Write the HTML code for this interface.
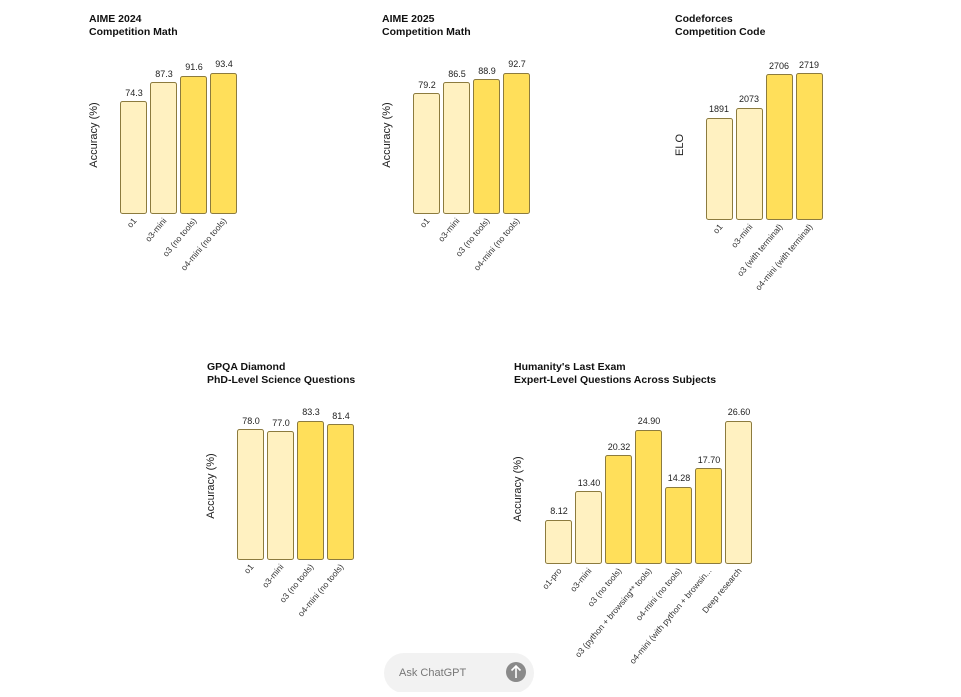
<!DOCTYPE html>
<html><head><meta charset="utf-8"><style>
body{margin:0;background:#fff;}
svg text{font-family:"Liberation Sans",sans-serif;}
.t{font-size:10.5px;font-weight:bold;fill:#111}
.v{font-size:9px;fill:#222;text-anchor:middle}
.x{font-size:8.5px;fill:#333;text-anchor:end}
.y{font-size:11px;fill:#222;text-anchor:middle}
.l{fill:#FFF1C1;stroke:#8C7B3E;stroke-width:1}
.d{fill:#FFDF5A;stroke:#8C7B3E;stroke-width:1}
</style></head><body>
<svg width="961" height="692" xmlns="http://www.w3.org/2000/svg">
<!-- Chart 1 -->
<text class="t" x="89" y="22">AIME 2024</text><text class="t" x="89" y="35">Competition Math</text>
<text class="y" transform="translate(97,135) rotate(-90)">Accuracy (%)</text>
<rect class="l" x="120.5" y="101.5" width="26" height="112" rx="2"/><text class="v" x="134" y="96">74.3</text>
<rect class="l" x="150.5" y="82.5" width="26" height="131" rx="2"/><text class="v" x="164" y="77">87.3</text>
<rect class="d" x="180.5" y="76.5" width="26" height="137" rx="2"/><text class="v" x="194" y="70">91.6</text>
<rect class="d" x="210.5" y="73.5" width="26" height="140" rx="2"/><text class="v" x="224" y="67">93.4</text>
<text class="x" transform="translate(137,221) rotate(-50)">o1</text>
<text class="x" transform="translate(167,221) rotate(-50)">o3-mini</text>
<text class="x" transform="translate(197,221) rotate(-50)">o3 (no tools)</text>
<text class="x" transform="translate(227,221) rotate(-50)">o4-mini (no tools)</text>
<!-- Chart 2 -->
<text class="t" x="382" y="22">AIME 2025</text><text class="t" x="382" y="35">Competition Math</text>
<text class="y" transform="translate(390,135) rotate(-90)">Accuracy (%)</text>
<rect class="l" x="413.5" y="93.5" width="26" height="120" rx="2"/><text class="v" x="427" y="88">79.2</text>
<rect class="l" x="443.5" y="82.5" width="26" height="131" rx="2"/><text class="v" x="457" y="77">86.5</text>
<rect class="d" x="473.5" y="79.5" width="26" height="134" rx="2"/><text class="v" x="487" y="74">88.9</text>
<rect class="d" x="503.5" y="73.5" width="26" height="140" rx="2"/><text class="v" x="517" y="67">92.7</text>
<text class="x" transform="translate(430,221) rotate(-50)">o1</text>
<text class="x" transform="translate(460,221) rotate(-50)">o3-mini</text>
<text class="x" transform="translate(490,221) rotate(-50)">o3 (no tools)</text>
<text class="x" transform="translate(520,221) rotate(-50)">o4-mini (no tools)</text>
<!-- Chart 3 -->
<text class="t" x="675" y="22">Codeforces</text><text class="t" x="675" y="35">Competition Code</text>
<text class="y" transform="translate(683,145) rotate(-90)">ELO</text>
<rect class="l" x="706.5" y="118.5" width="26" height="101" rx="2"/><text class="v" x="719" y="112">1891</text>
<rect class="l" x="736.5" y="108.5" width="26" height="111" rx="2"/><text class="v" x="749" y="102">2073</text>
<rect class="d" x="766.5" y="74.5" width="26" height="145" rx="2"/><text class="v" x="779" y="69">2706</text>
<rect class="d" x="796.5" y="73.5" width="26" height="146" rx="2"/><text class="v" x="809" y="68">2719</text>
<text class="x" transform="translate(723,227) rotate(-50)">o1</text>
<text class="x" transform="translate(753,227) rotate(-50)">o3-mini</text>
<text class="x" transform="translate(783,227) rotate(-50)">o3 (with terminal)</text>
<text class="x" transform="translate(813,227) rotate(-50)">o4-mini (with terminal)</text>
<!-- Chart 4 -->
<text class="t" x="207" y="370">GPQA Diamond</text><text class="t" x="207" y="383">PhD-Level Science Questions</text>
<text class="y" transform="translate(214,486) rotate(-90)">Accuracy (%)</text>
<rect class="l" x="237.5" y="429.5" width="26" height="130" rx="2"/><text class="v" x="251" y="424">78.0</text>
<rect class="l" x="267.5" y="431.5" width="26" height="128" rx="2"/><text class="v" x="281" y="426">77.0</text>
<rect class="d" x="297.5" y="421.5" width="26" height="138" rx="2"/><text class="v" x="311" y="415">83.3</text>
<rect class="d" x="327.5" y="424.5" width="26" height="135" rx="2"/><text class="v" x="341" y="419">81.4</text>
<text class="x" transform="translate(254,567) rotate(-50)">o1</text>
<text class="x" transform="translate(284,567) rotate(-50)">o3-mini</text>
<text class="x" transform="translate(314,567) rotate(-50)">o3 (no tools)</text>
<text class="x" transform="translate(344,567) rotate(-50)">o4-mini (no tools)</text>
<!-- Chart 5 -->
<text class="t" x="514" y="370">Humanity's Last Exam</text><text class="t" x="514" y="383">Expert-Level Questions Across Subjects</text>
<text class="y" transform="translate(521,489) rotate(-90)">Accuracy (%)</text>
<rect class="l" x="545.5" y="520.5" width="26" height="43" rx="2"/><text class="v" x="559" y="514">8.12</text>
<rect class="l" x="575.5" y="491.5" width="26" height="72" rx="2"/><text class="v" x="589" y="486">13.40</text>
<rect class="d" x="605.5" y="455.5" width="26" height="108" rx="2"/><text class="v" x="619" y="450">20.32</text>
<rect class="d" x="635.5" y="430.5" width="26" height="133" rx="2"/><text class="v" x="649" y="424">24.90</text>
<rect class="d" x="665.5" y="487.5" width="26" height="76" rx="2"/><text class="v" x="679" y="481">14.28</text>
<rect class="d" x="695.5" y="468.5" width="26" height="95" rx="2"/><text class="v" x="709" y="463">17.70</text>
<rect class="l" x="725.5" y="421.5" width="26" height="142" rx="2"/><text class="v" x="739" y="415">26.60</text>
<text class="x" transform="translate(562,571) rotate(-50)">o1-pro</text>
<text class="x" transform="translate(592,571) rotate(-50)">o3-mini</text>
<text class="x" transform="translate(622,571) rotate(-50)">o3 (no tools)</text>
<text class="x" transform="translate(652,571) rotate(-50)">o3 (python + browsing** tools)</text>
<text class="x" transform="translate(682,571) rotate(-50)">o4-mini (no tools)</text>
<text class="x" transform="translate(712,571) rotate(-50)">o4-mini (with python + browsin...</text>
<text class="x" transform="translate(742,571) rotate(-50)">Deep research</text>
<!-- Ask bar -->
<rect x="384" y="653" width="150" height="40" rx="20" fill="#f2f2f2"/>
<text x="399" y="676" style="font-size:11px;fill:#777">Ask ChatGPT</text>
<circle cx="516" cy="672" r="10" fill="#8a8a8a"/>
<path d="M516 678 V666 M511.5 670.5 L516 666 L520.5 670.5" stroke="#fff" stroke-width="1.6" fill="none"/>
</svg>
</body></html>
